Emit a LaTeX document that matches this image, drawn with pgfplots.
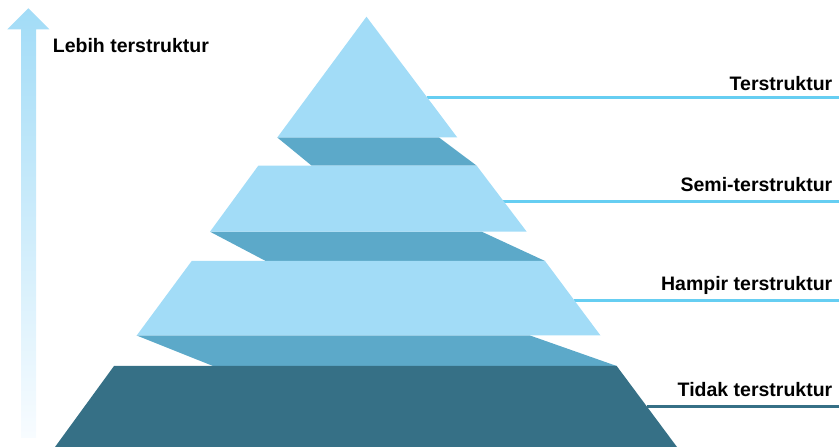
\documentclass[border=0pt]{standalone}
\usepackage{pgfplots}
\pgfplotsset{compat=1.18}
\usepackage{fontspec}
\setmainfont{Liberation Sans}
\definecolor{light}{HTML}{A2DCF7}
\definecolor{mid}{HTML}{5CA9C9}
\definecolor{dark}{HTML}{367086}
\definecolor{cyanline}{HTML}{66CEF2}
\definecolor{arrowbot}{HTML}{F8FCFF}
\begin{document}
\begin{tikzpicture}
\begin{axis}[
  x=1pt, y=1pt,
  xmin=0, xmax=839, ymin=0, ymax=447,
  hide axis, clip=false,
  every axis plot/.append style={no markers, forget plot},
]
% arrow
\addplot[draw=none, top color=light, bottom color=arrowbot, shading=axis]
  coordinates {(21,9) (36,9) (36,417.7) (49.3,417.7) (28.3,438.7) (7.3,417.7) (21,417.7)} -- cycle;
% leader lines
\addplot[cyanline, line width=3pt] coordinates {(427,349.3) (839,349.3)};
\addplot[cyanline, line width=3pt] coordinates {(502,245.3) (839,245.3)};
\addplot[cyanline, line width=3pt] coordinates {(574,146.7) (839,146.7)};
\addplot[dark, line width=3pt] coordinates {(647,40) (839,40)};
% shadow bands
\addplot[fill=mid, draw=none] coordinates {(277.3,309.5) (439,309.5) (476.7,281.3) (311.7,281.3)} -- cycle;
\addplot[fill=mid, draw=none] coordinates {(210,215.3) (481.7,215.3) (545,186) (265.7,186)} -- cycle;
\addplot[fill=mid, draw=none] coordinates {(136.7,111.5) (530,111.5) (616.7,81) (213,81)} -- cycle;
% tiers
\addplot[fill=light, draw=none] coordinates {(366.5,430.3) (457.3,309.5) (277.3,309.5)} -- cycle;
\addplot[fill=light, draw=none] coordinates {(258.3,281.3) (476.7,281.3) (526.7,215.3) (210,215.3)} -- cycle;
\addplot[fill=light, draw=none] coordinates {(191.7,186) (545,186) (600.5,111.5) (136.7,111.5)} -- cycle;
\addplot[fill=dark, draw=none] coordinates {(114,81) (616.7,81) (677,0) (55,0)} -- cycle;
% labels
\node[anchor=base west, inner sep=0pt, font=\fontsize{19.5}{22}\selectfont\bfseries] at (axis cs:52.7,394.7) {Lebih terstruktur};
\node[anchor=base east, inner sep=0pt, font=\fontsize{19.5}{22}\selectfont\bfseries] at (axis cs:832.5,356.3) {Terstruktur};
\node[anchor=base east, inner sep=0pt, font=\fontsize{19.5}{22}\selectfont\bfseries] at (axis cs:832.5,255.3) {Semi-terstruktur};
\node[anchor=base east, inner sep=0pt, font=\fontsize{19.5}{22}\selectfont\bfseries] at (axis cs:832.5,156.3) {Hampir terstruktur};
\node[anchor=base east, inner sep=0pt, font=\fontsize{19.5}{22}\selectfont\bfseries] at (axis cs:832.5,50.3) {Tidak terstruktur};
\end{axis}
\pgfresetboundingbox
\path[use as bounding box] (current axis.south west) rectangle (current axis.north east);
\end{tikzpicture}
\end{document}
